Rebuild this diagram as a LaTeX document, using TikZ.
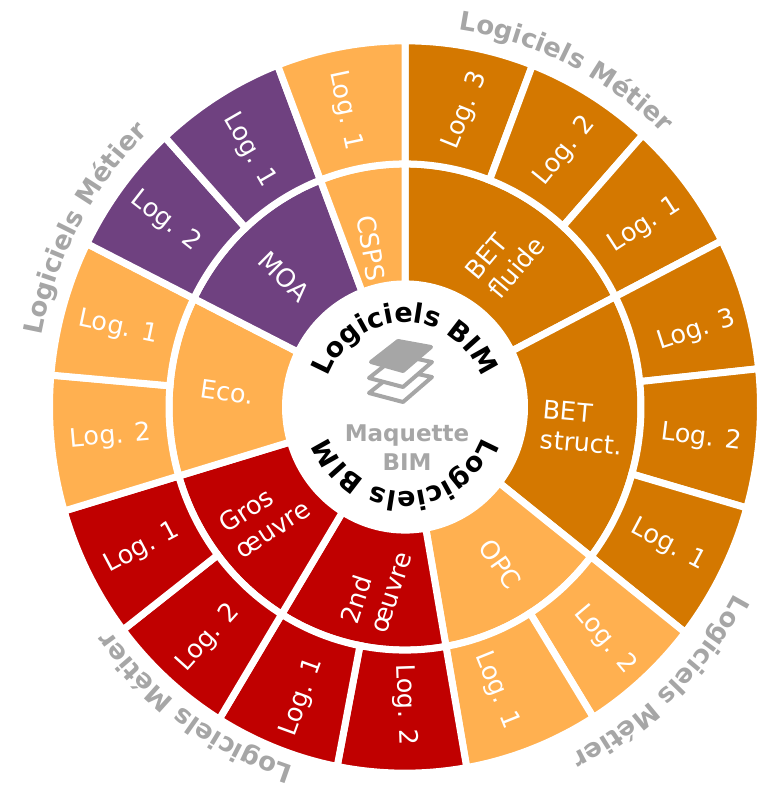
\documentclass[tikz,border=0pt]{standalone}
\usepackage{fontspec}
\setmainfont{DejaVu Sans}
\usetikzlibrary{decorations.text}
\definecolor{betorange}{HTML}{D47800}
\definecolor{lightorange}{HTML}{FFB050}
\definecolor{moapurple}{HTML}{6F4180}
\definecolor{grosred}{HTML}{C00000}
\definecolor{labelgray}{HTML}{A6A6A6}
\tikzstyle{sectorpart}=[draw=white,line width=7pt,line join=miter]
\tikzstyle{seclabel}=[text=white,font=\fontsize{25.5}{30}\selectfont,align=left,inner sep=0pt]
\tikzstyle{layer}=[draw=labelgray,line width=4pt,line join=round,fill=white]
\newcommand{\drawsector}[5]{% start angle, end angle, inner radius, outer radius, colour
\path[sectorpart,fill=#5] (#1:#3) arc (#1:#2:#3) -- (#2:#4) arc (#2:#1:#4) -- cycle;
}
\newcommand{\newseclabel}[5]{% name, angle, radius, rotation, text
\node[seclabel,rotate=#4] (#1) at (#2:#3) {#5};
}
\newcommand{\curvedlabel}[5]{% centre angle, radius, colour, size, text
\pgfmathsetmacro{\arcstart}{#1+75}
\pgfmathsetmacro{\arcend}{#1-75}
\path[decorate,decoration={text along path,text align=center,text={|\color{#3}\fontsize{#4}{#4}\selectfont\bfseries|#5}}] (\arcstart:#2) arc (\arcstart:\arcend:#2);
}
\begin{document}
\begin{tikzpicture}[x=1pt,y=1pt]
\useasboundingbox (0,0) rectangle (756,-788);
\begin{scope}[shift={(405,-407)},yscale=1.03]
  % inner ring
  \drawsector{90}{27}{119.5}{236}{betorange}
  \drawsector{27}{-38}{119.5}{236}{betorange}
  \drawsector{-38}{-80}{119.5}{236}{lightorange}
  \drawsector{-80}{-121.5}{119.5}{236}{grosred}
  \drawsector{-121.5}{-163.5}{119.5}{236}{grosred}
  \drawsector{196.5}{153.5}{119.5}{236}{lightorange}
  \drawsector{153.5}{111}{119.5}{236}{moapurple}
  \drawsector{111}{90}{119.5}{236}{lightorange}
  % outer ring
  \drawsector{90}{69}{236}{355.5}{betorange}
  \drawsector{69}{48}{236}{355.5}{betorange}
  \drawsector{48}{27}{236}{355.5}{betorange}
  \drawsector{27}{6}{236}{355.5}{betorange}
  \drawsector{6}{-16}{236}{355.5}{betorange}
  \drawsector{-16}{-38}{236}{355.5}{betorange}
  \drawsector{-38}{-58}{236}{355.5}{lightorange}
  \drawsector{-58}{-80}{236}{355.5}{lightorange}
  \drawsector{-80}{-101}{236}{355.5}{grosred}
  \drawsector{-101}{-121.5}{236}{355.5}{grosred}
  \drawsector{238.5}{217.5}{236}{355.5}{grosred}
  \drawsector{217.5}{196.5}{236}{355.5}{grosred}
  \drawsector{196.5}{175}{236}{355.5}{lightorange}
  \drawsector{175}{153.5}{236}{355.5}{lightorange}
  \drawsector{153.5}{132.5}{236}{355.5}{moapurple}
  \drawsector{132.5}{111}{236}{355.5}{moapurple}
  \drawsector{111}{90}{236}{355.5}{lightorange}
  % inner ring labels
  \newseclabel{csps}{102.4}{158}{-80}{CSPS}
  \newseclabel{moa}{133.6}{175}{-45}{MOA}
  \newseclabel{eco}{175.3}{178}{-8}{Eco.}
  \newseclabel{gros}{217}{176}{33}{Gros\\œuvre}
  \newseclabel{second}{260.6}{178}{72}{2nd\\œuvre}
  \newseclabel{opc}{-58}{180}{-55}{OPC}
  \newseclabel{betstruct}{-6.4}{179}{-5}{BET\\struct.}
  \newseclabel{betfluide}{55.4}{176}{50}{BET\\fluide}
  % outer ring labels
  \newseclabel{fluidethree}{78.2}{294}{68}{Log. 3}
  \newseclabel{fluidetwo}{57.3}{296}{51}{Log. 2}
  \newseclabel{fluideone}{36.4}{298}{33}{Log. 1}
  \newseclabel{structthree}{14.2}{301}{18}{Log. 3}
  \newseclabel{structtwo}{-5.8}{298}{-7}{Log. 2}
  \newseclabel{structone}{-27}{295}{-28}{Log. 1}
  \newseclabel{opctwo}{-48.5}{302}{-50}{Log. 2}
  \newseclabel{opcone}{-71.5}{290}{-68}{Log. 1}
  \newseclabel{secondtwo}{-90}{289}{-88}{Log. 2}
  \newseclabel{secondone}{250}{300}{70}{Log. 1}
  \newseclabel{grostwo}{228.7}{298}{48}{Log. 2}
  \newseclabel{grosone}{207.5}{296}{28}{Log. 1}
  \newseclabel{ecotwo}{185.6}{296}{5}{Log. 2}
  \newseclabel{ecoone}{165}{297}{-12}{Log. 1}
  \newseclabel{moatwo}{143}{300}{-38}{Log. 2}
  \newseclabel{moaone}{122}{294}{-60}{Log. 1}
  \newseclabel{cspsone}{101.8}{294}{-78}{Log. 1}
  % curved labels
  \curvedlabel{90}{82}{black}{27}{Logiciels BIM}
  \curvedlabel{-90}{82}{black}{27}{Logiciels BIM}
  \curvedlabel{64.3}{370}{labelgray}{26}{Logiciels Métier}
  \curvedlabel{151}{370}{labelgray}{26}{Logiciels Métier}
  \curvedlabel{-47}{376}{labelgray}{26}{Logiciels Métier}
  \curvedlabel{235}{366}{labelgray}{26}{Logiciels Métier}
\end{scope}
% layers icon
\foreach \dy/\lname in {-31/lower,-16/middle} {
  \path[layer,yshift=\dy] (398,-339) -- (432,-346) -- (403,-371) -- (369,-362) -- cycle;
}
\path[layer,fill=labelgray] (398,-341) -- (431,-347) -- (403,-371) -- (371,-362) -- cycle;
\node[text=labelgray,font=\fontsize{23}{29}\selectfont\bfseries,align=center,inner sep=0pt] (maquette) at (407,-448) {Maquette\\BIM};
\end{tikzpicture}
\end{document}
